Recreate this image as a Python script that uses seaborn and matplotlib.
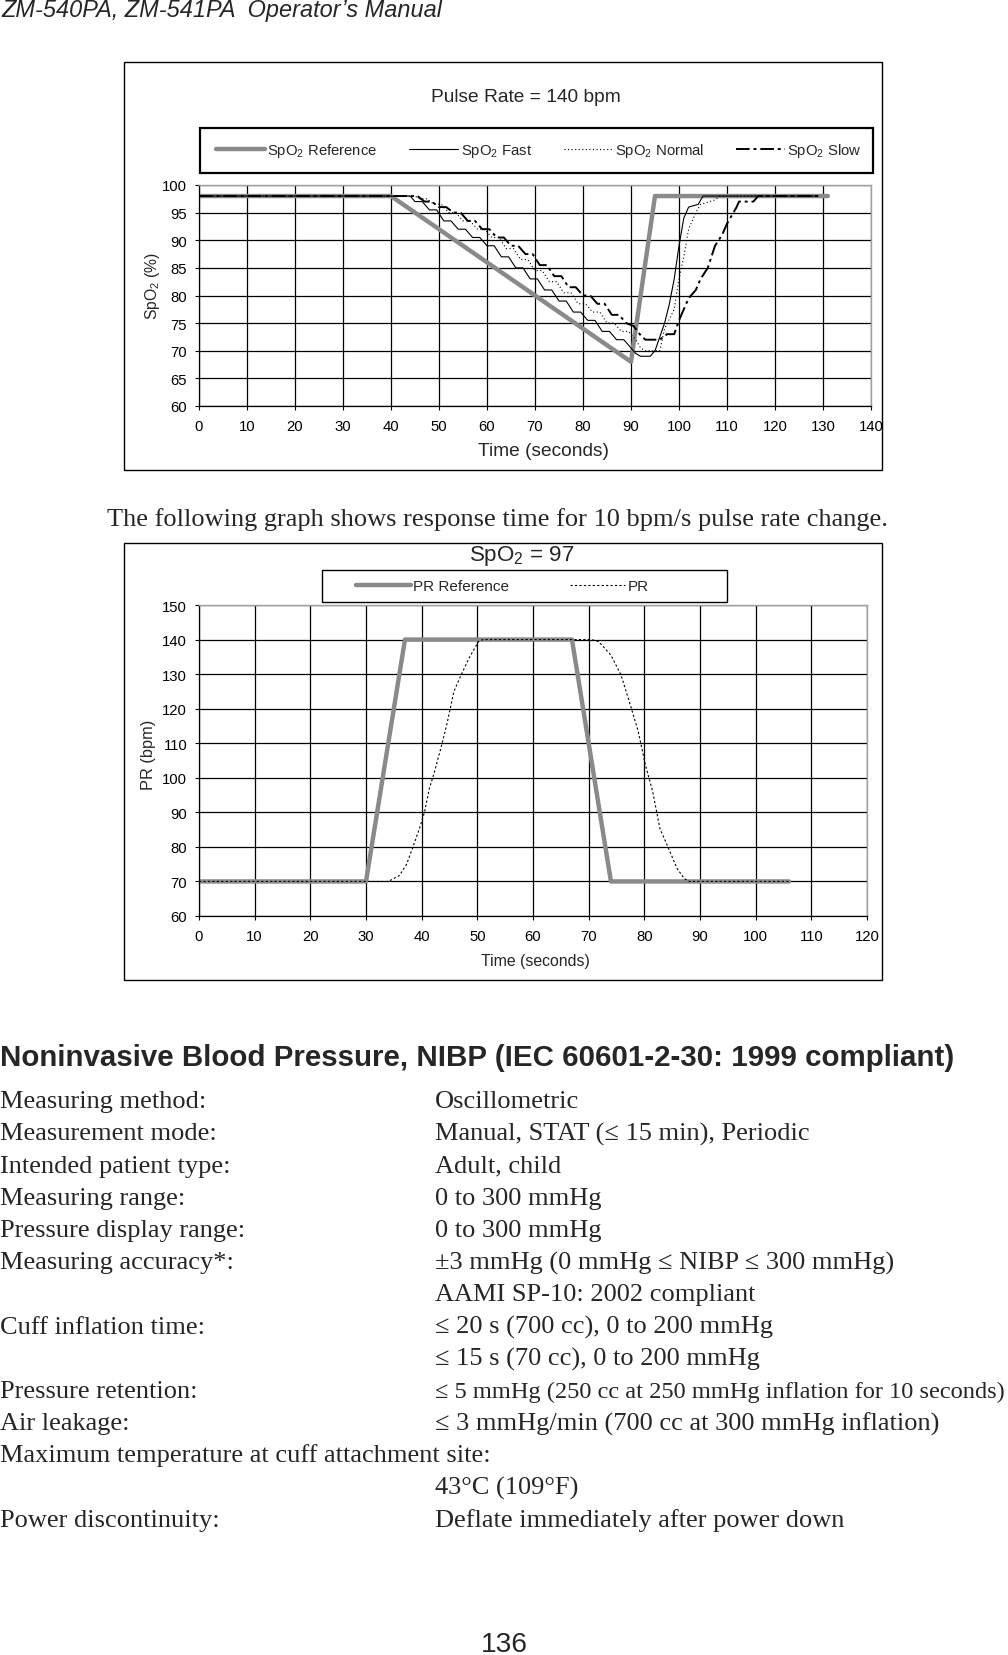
import numpy as np
import pandas as pd
import matplotlib
matplotlib.use("Agg")
import matplotlib.pyplot as plt
import seaborn as sns
from matplotlib import font_manager as fm
from matplotlib.lines import Line2D
from matplotlib.patches import Rectangle

# ---------------- data ----------------
spo2_ref_t = [0, 40, 90, 95, 131]
spo2_ref_v = [98, 98, 68, 98, 98]

spo2_fast_t = [0, 44, 45, 46.5, 48, 49.5, 51, 52.5, 54, 55.5, 57, 58.5, 60, 61.5, 63, 64.5,
               66, 67.5, 69, 70.5, 72, 73.5, 75, 76.5, 78, 79.5, 81, 82.5, 84, 85.5, 87, 88.5,
               90, 91, 92, 94, 95, 96, 97, 98, 99, 100, 101, 102, 104, 105, 129]
spo2_fast_v = [98, 98, 97, 97, 95.5, 95.5, 93.5, 93.5, 92, 92, 90.5, 90.5, 89, 89, 87, 87,
               85, 85, 83, 83, 81, 81, 79, 79, 77, 77, 75.5, 75.5, 73.5, 73.5, 72, 72,
               70.5, 69.5, 69, 69, 70, 72.5, 75, 78.5, 83, 89, 94, 96, 96.5, 98, 98]

spo2_normal_t = [0, 45, 46, 47.5, 49, 50.5, 52, 53.5, 55, 56.5, 58, 59.5, 61, 62.5, 64, 65.5,
                 67, 68.5, 70, 71.5, 73, 74.5, 76, 77.5, 79, 80.5, 82, 83.5, 85, 86.5, 88, 89.5,
                 91, 92, 93, 96, 97, 99, 100, 101, 102, 103.5, 104.5, 107.5, 108.5, 129]
spo2_normal_v = [98, 98, 97.5, 97.5, 96.5, 96.5, 95, 95, 93.5, 93.5, 92, 92, 90.5, 90.5, 88.5, 88.5,
                 86.5, 86.5, 84.5, 84.5, 82.5, 82.5, 80.5, 80.5, 78.5, 78.5, 77, 77, 75, 75, 73.5, 73.5,
                 72, 70.5, 70, 70, 74, 77.5, 83, 87, 92, 95, 96.5, 97.3, 98, 98]

spo2_slow_t = [0, 45.5, 47, 48.5, 50, 51.5, 53, 54.5, 56, 57.5, 59, 60.5, 62, 63.5, 65, 66.5,
               68, 69.5, 71, 72.5, 74, 75.5, 77, 78.5, 80, 81.5, 83, 84.5, 86, 87.5, 89, 90.5,
               92, 93, 96, 97.5, 99, 100, 102, 103.5, 104.5, 106, 107.5, 109, 110, 112, 112.5,
               115.5, 116.5, 129]
spo2_slow_v = [98, 98, 97, 97, 96, 96, 95, 95, 93.5, 93.5, 92, 92, 90.5, 90.5, 89, 89,
               87.5, 87.5, 85.5, 85.5, 83.5, 83.5, 81.5, 81.5, 80, 80, 78.5, 78.5, 76.5, 76.5, 75, 74.5,
               72.8, 72, 72, 73, 73, 75.5, 79.5, 81, 83, 85, 89, 91, 93, 96, 97,
               97, 98, 98]

pr_ref_t = [0, 30, 37, 67, 74, 106]
pr_ref_v = [70, 70, 140, 140, 70, 70]

pr_t = [0, 34, 36, 37.3, 38.3, 39.6, 40.5, 41.4, 42.3, 43.6, 44.5, 45.8, 47.1, 48.5, 50.2, 51,
        70.5, 71.8, 74, 75.8, 77.5, 78.9, 80.2, 81.5, 82.8, 84.1, 85.9, 87.2, 88.1, 106]
pr_v = [70, 70, 71.7, 75, 79.4, 85.3, 90, 97, 101.7, 109.5, 115.3, 125, 129.8, 134.6, 139.4, 140,
        140, 139.4, 135.5, 129.8, 121, 113.4, 103.7, 96, 85.3, 80.5, 73.7, 70.8, 70, 70]

spo2_xticks = list(range(0, 141, 10))
spo2_yticks = list(range(60, 101, 5))
pr_xticks = list(range(0, 121, 10))
pr_yticks = list(range(60, 151, 10))

spo2_labels = ["SpO$_\\mathregular{2}$ Reference", "SpO$_\\mathregular{2}$ Fast",
               "SpO$_\\mathregular{2}$ Normal", "SpO$_\\mathregular{2}$ Slow"]
pr_labels = ["PR Reference", "PR"]

header_text = "ZM-540PA, ZM-541PA  Operator\u2019s Manual"
top_title = "Pulse Rate = 140 bpm"
bottom_title = "SpO$_\\mathregular{2}$ = 97"
caption = "The following graph shows response time for 10 bpm/s pulse rate change."
heading = "Noninvasive Blood Pressure, NIBP (IEC 60601-2-30: 1999 compliant)"
spec_left = ["Measuring method:", "Measurement mode:", "Intended patient type:", "Measuring range:",
             "Pressure display range:", "Measuring accuracy*:", "", "Cuff inflation time:", "",
             "Pressure retention:", "Air leakage:", "Maximum temperature at cuff attachment site:",
             "", "Power discontinuity:"]
spec_right = ["Oscillometric", "Manual, STAT (\u2264 15 min), Periodic", "Adult, child", "0 to 300 mmHg",
              "0 to 300 mmHg", "\u00b13 mmHg (0 mmHg \u2264 NIBP \u2264 300 mmHg)", "AAMI SP-10: 2002 compliant",
              "\u2264 20 s (700 cc), 0 to 200 mmHg", "\u2264 15 s (70 cc), 0 to 200 mmHg",
              "\u2264 5 mmHg (250 cc at 250 mmHg inflation for 10 seconds)",
              "\u2264 3 mmHg/min (700 cc at 300 mmHg inflation)", "", "43\u00b0C (109\u00b0F)",
              "Deflate immediately after power down"]
page_number = "136"

# ---------------- setup ----------------
sns.set_theme(style="white")
available = {f.name for f in fm.fontManager.ttflist}
SANS = "Liberation Sans" if "Liberation Sans" in available else "DejaVu Sans"
NARROW = "Liberation Sans Narrow" if "Liberation Sans Narrow" in available else SANS
SERIF = "Liberation Serif" if "Liberation Serif" in available else "DejaVu Serif"
plt.rcParams["font.family"] = [SANS, "DejaVu Sans"]
plt.rcParams["mathtext.fontset"] = "custom"
plt.rcParams["mathtext.rm"] = SANS

W, H = 1008, 1656
fig = plt.figure(figsize=(W / 100, H / 100), dpi=100)
fig.patch.set_facecolor("white")
R = fig.canvas.get_renderer()


def fx(x):
    return x / W


def fy(y):
    return 1 - y / H


def fit(t, target, use_height=False):
    bb = t.get_window_extent(renderer=R)
    cur = bb.height if use_height else bb.width
    t.set_fontsize(t.get_fontsize() * target / cur)
    return t


GRAY = "#8a8a8a"
SLOW_LS = (0, (7, 2, 1.5, 2))


def add_axes_px(l, t, r, b):
    return fig.add_axes([fx(l), fy(b), (r - l) / W, (b - t) / H])


def style(ax, xlim, ylim, xt, yt):
    ax.set_xlim(*xlim)
    ax.set_ylim(*ylim)
    ax.set_xticks(xt)
    ax.set_yticks(yt)
    ax.set_facecolor("white")
    ax.grid(True, color="black", lw=0.9)
    ax.set_axisbelow(True)
    for s in ["left", "bottom"]:
        ax.spines[s].set_color("black")
        ax.spines[s].set_linewidth(0.9)
    for s in ["top", "right"]:
        ax.spines[s].set_color("#a0a0a0")
        ax.spines[s].set_linewidth(1.0)
    ax.tick_params(axis="both", which="both", bottom=True, left=True, direction="out",
                   length=3, width=0.8, color="black", labelsize=10.7, labelcolor="black")
    ax.tick_params(axis="x", pad=6.5)
    ax.tick_params(axis="y", pad=5.5)
    ax.set_xlabel("")
    ax.set_ylabel("")


def rect_px(l, t, r, b, lw=1.0):
    fig.add_artist(Rectangle((fx(l), fy(b)), (r - l) / W, (b - t) / H, transform=fig.transFigure,
                             fill=False, ec="black", lw=lw))


# ---------------- top chart ----------------
rect_px(124, 63, 882, 471, lw=1.0)
ax1 = add_axes_px(199, 186, 871, 407)
sns.lineplot(x=np.array(spo2_ref_t), y=np.array(spo2_ref_v), ax=ax1, color=GRAY, lw=3.2,
             estimator=None, sort=False)
sns.lineplot(x=np.array(spo2_fast_t), y=np.array(spo2_fast_v), ax=ax1, color="black", lw=0.8,
             estimator=None, sort=False)
sns.lineplot(x=np.array(spo2_normal_t), y=np.array(spo2_normal_v), ax=ax1, color="black", lw=0.8,
             linestyle=(0, (1, 2.2)), estimator=None, sort=False)
sns.lineplot(x=np.array(spo2_slow_t), y=np.array(spo2_slow_v), ax=ax1, color="black", lw=1.4,
             linestyle=SLOW_LS, estimator=None, sort=False)
style(ax1, (0, 140), (60, 100), spo2_xticks, spo2_yticks)

rect_px(200, 129, 873, 174, lw=1.6)
h1 = [Line2D([], [], color=GRAY, lw=3.2),
      Line2D([], [], color="black", lw=0.8),
      Line2D([], [], color="black", lw=0.8, linestyle=(0, (1, 2.2))),
      Line2D([], [], color="black", lw=1.4, linestyle=SLOW_LS)]
fig.legend(h1, spo2_labels, loc="center", bbox_to_anchor=(fx(216), fy(174), (862 - 216) / W, 45 / H),
           mode="expand", ncol=4, frameon=False, fontsize=10.7, handlelength=3.3,
           handletextpad=0.15, borderaxespad=0, borderpad=0)

t = fig.text(fx(526), fy(98), top_title, ha="center", va="center", fontsize=13)
fit(t, 190)
t = fig.text(fx(543), fy(451), "Time (seconds)", ha="center", va="center", fontsize=12)
fit(t, 131)
t = fig.text(fx(153), fy(286), "SpO$_\\mathregular{2}$ (%)", ha="center", va="center",
             rotation=90, fontsize=11)
fit(t, 68, use_height=True)

# ---------------- caption ----------------
t = fig.text(fx(497), fy(520), caption, ha="center", va="center", family=[SERIF, "DejaVu Serif"],
             fontsize=16)
fit(t, 782)

# ---------------- bottom chart ----------------
rect_px(124, 544, 882, 981, lw=1.0)
ax2 = add_axes_px(199, 606, 867, 917)
sns.lineplot(x=np.array(pr_ref_t), y=np.array(pr_ref_v), ax=ax2, color=GRAY, lw=3.2,
             estimator=None, sort=False)
sns.lineplot(x=np.array(pr_t), y=np.array(pr_v), ax=ax2, color="black", lw=0.8,
             linestyle=(0, (2, 2)), estimator=None, sort=False)
style(ax2, (0, 120), (60, 150), pr_xticks, pr_yticks)

rect_px(322, 571, 727, 603, lw=1.0)
h2 = [Line2D([], [], color=GRAY, lw=3.2),
      Line2D([], [], color="black", lw=0.8, linestyle=(0, (2, 2)))]
fig.legend(h2, pr_labels, loc="center", bbox_to_anchor=(fx(502), fy(587)), ncol=2, frameon=False,
           fontsize=11, handlelength=3.6, handletextpad=0.15, columnspacing=4.0,
           borderaxespad=0, borderpad=0)

t = fig.text(fx(522), fy(556), bottom_title, ha="center", va="center", fontsize=12)
fit(t, 106)
t = fig.text(fx(535), fy(962), "Time (seconds)", ha="center", va="center", fontsize=10)
fit(t, 109)
t = fig.text(fx(148), fy(755), "PR (bpm)", ha="center", va="center", rotation=90, fontsize=11)
fit(t, 70, use_height=True)

# ---------------- page text ----------------
t = fig.text(fx(1), fy(17), header_text, ha="left", va="baseline", style="italic", fontsize=15)
fit(t, 440)

t = fig.text(fx(0), fy(1066), heading, ha="left", va="baseline", weight="bold",
             family=[NARROW, SANS, "DejaVu Sans"], fontsize=18)
fit(t, 955)

serif = [SERIF, "DejaVu Serif"]
probe = fig.text(0, 0, "Maximum temperature at cuff attachment site:", family=serif, fontsize=16)
fit(probe, 490)
body_size = probe.get_fontsize()
probe.remove()

for k, (lt, rt) in enumerate(zip(spec_left, spec_right)):
    yb = 1108.3 + 32.18 * k
    if lt:
        fig.text(fx(0), fy(yb), lt, ha="left", va="baseline", family=serif, fontsize=body_size)
    if rt:
        tt = fig.text(fx(435), fy(yb), rt, ha="left", va="baseline", family=serif, fontsize=body_size)
        w = tt.get_window_extent(renderer=R).width
        if 435 + w > 1006:
            fit(tt, 1006 - 435)

t = fig.text(fx(504), fy(1652), page_number, ha="center", va="baseline",
             family=[NARROW, SANS, "DejaVu Sans"], fontsize=18)
fit(t, 47)

fig.savefig("out.png", dpi=100, facecolor="white")
